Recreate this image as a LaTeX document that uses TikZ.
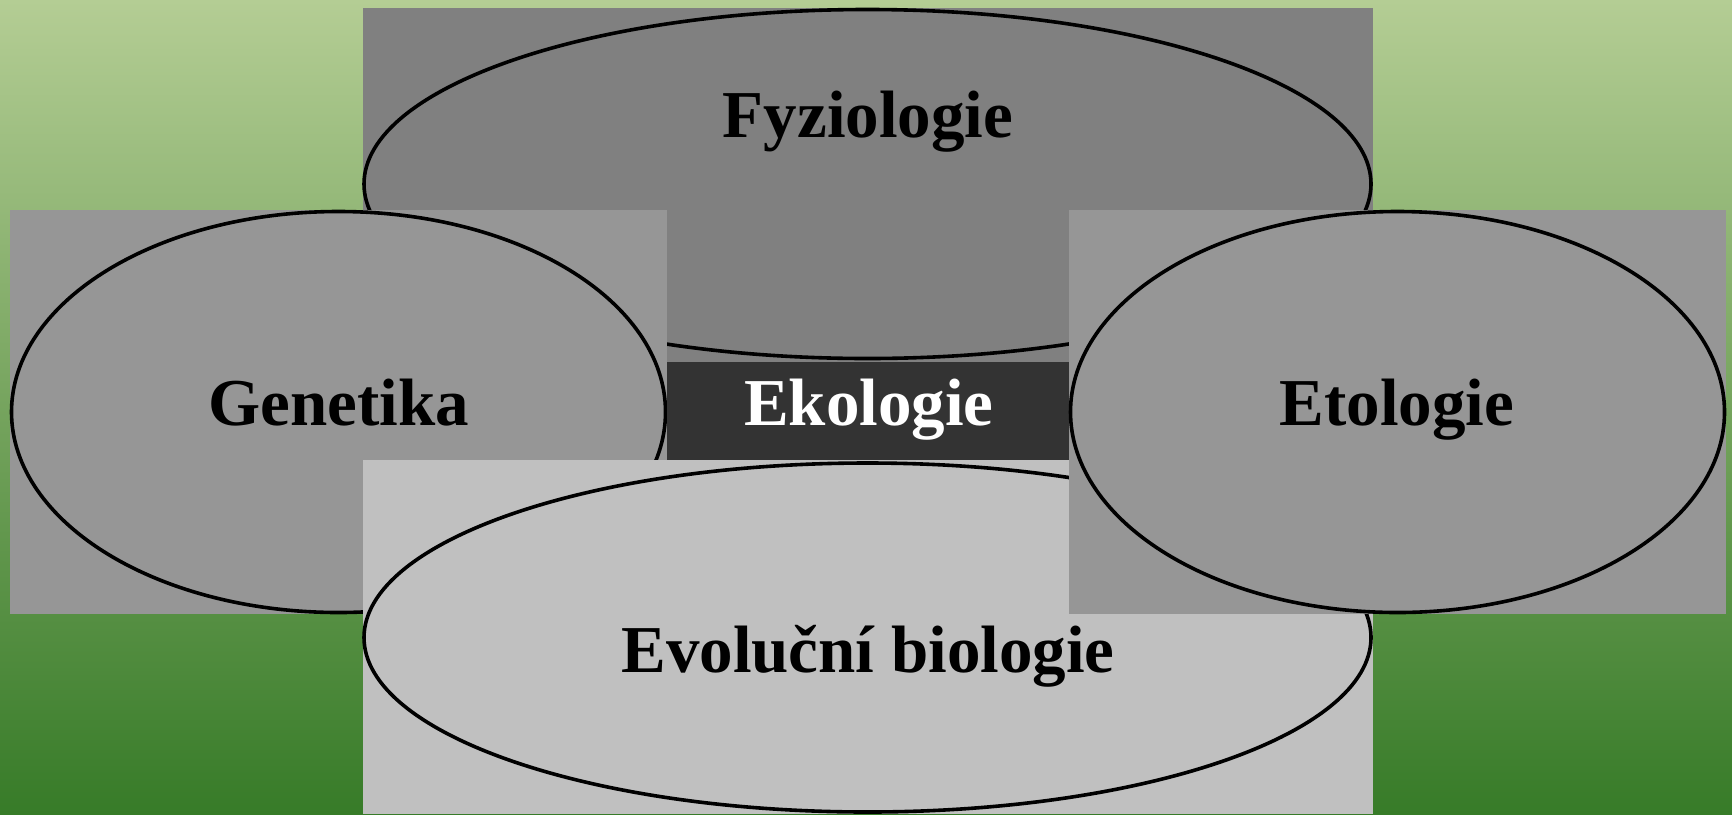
\documentclass[tikz,border=0pt]{standalone}
\usepackage{fontspec}
\setmainfont{Liberation Serif}
\definecolor{bgtop}{RGB}{180,205,148}
\definecolor{bgbot}{RGB}{55,123,40}
\definecolor{topgray}{RGB}{128,128,128}
\definecolor{sidegray}{RGB}{150,150,150}
\definecolor{botgray}{RGB}{192,192,192}
\definecolor{darkgray}{RGB}{51,51,51}
\tikzset{
  panel/.style={fill=#1, draw=none},
  oval/.style={fill=#1, draw=black, line width=1.8pt},
  label/.style={inner sep=0pt, anchor=base, font=\bfseries\fontsize{33.5}{40}\selectfont, text=#1},
}
\begin{document}
\begin{tikzpicture}[x=0.5pt,y=-0.5pt]
\useasboundingbox (0,0) rectangle (1732,814);
\shade[top color=bgtop, bottom color=bgbot] (0,0) rectangle (1732,814);
% top
\fill[topgray] (363,8) rectangle (1373,362);
\draw[oval=topgray] (867.5,184) ellipse [x radius=503.5, y radius=174.5];
\node[label=black] (fyz) at (868,137) {Fyziologie};
% left
\fill[sidegray] (10,210) rectangle (667,614);
\draw[oval=sidegray] (338.5,412) ellipse [x radius=327, y radius=200.5];
\node[label=black] (gen) at (338.5,425) {Genetika};
% centre
\fill[darkgray] (667,362) rectangle (1069,460);
\node[label=white] (eko) at (869,425) {Ekologie};
% bottom
\fill[botgray] (363,460) rectangle (1373,814);
\draw[oval=botgray] (867.5,637.5) ellipse [x radius=503.5, y radius=174.5];
\node[label=black] (evo) at (868,672) {Evoluční biologie};
% right
\fill[sidegray] (1069,210) rectangle (1726,614);
\draw[oval=sidegray] (1397.5,412) ellipse [x radius=327, y radius=200.5];
\node[label=black] (eto) at (1397,425) {Etologie};
\end{tikzpicture}
\end{document}
